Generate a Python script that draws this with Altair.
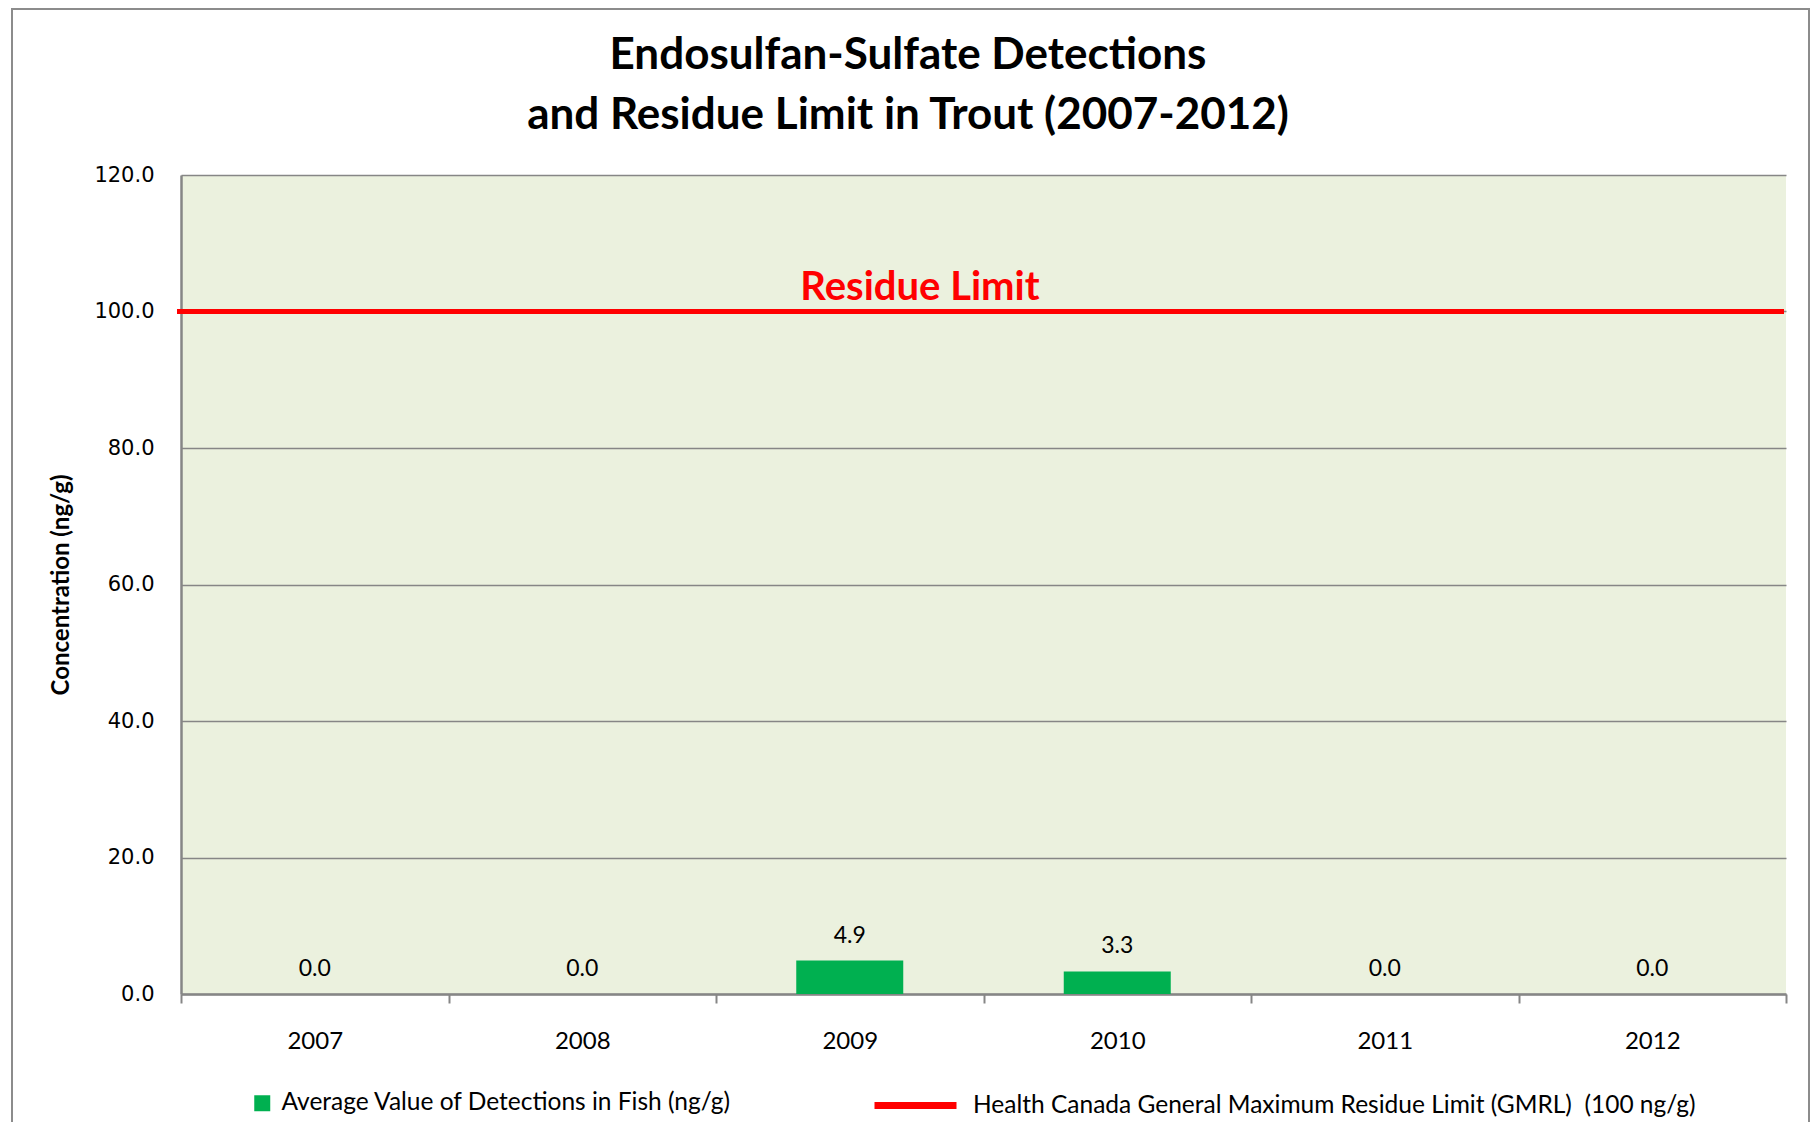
import altair as alt
import pandas as pd

years = ["2007", "2008", "2009", "2010", "2011", "2012"]
values = [0.0, 0.0, 4.9, 3.3, 0.0, 0.0]
limit_value = 100.0
bar_series = "Average Value of Detections in Fish (ng/g)"
limit_series = "Health Canada General Maximum Residue Limit (GMRL)\u00a0 (100 ng/g)"
limit_label = "Residue Limit"
title_line1 = "Endosulfan-Sulfate Detections"
title_line2 = "and Residue Limit in Trout (2007-2012)"
y_title = "Concentration (ng/g)"

W, H = 1605, 819

bars_df = pd.DataFrame({"year": years, "value": values, "series": [bar_series] * len(years)})
limit_df = pd.DataFrame({"limit": [limit_value], "series": [limit_series], "label": [limit_label]})
t1_df = pd.DataFrame({"line": [title_line1]})
t2_df = pd.DataFrame({"line": [title_line2]})
frame_df = pd.DataFrame({"k": [0]})

GRAY = "#868686"

x_enc = alt.X(
    "year:N",
    sort=years,
    scale=alt.Scale(paddingInner=0, paddingOuter=0),
    axis=alt.Axis(
        title=None, labelAngle=0, labelFont="Lato", labelFontSize=24, labelColor="black",
        tickBand="extent", tickSize=9, tickColor=GRAY, tickWidth=2,
        domainColor=GRAY, domainWidth=2.5, labelPadding=26, grid=False,
    ),
)
y_enc = alt.Y(
    "value:Q",
    scale=alt.Scale(domain=[0, 120]),
    axis=alt.Axis(
        title=y_title, values=[0, 20, 40, 60, 80, 100, 120], format=".1f",
        labelFont="DejaVu Sans", labelFontSize=21, labelColor="black", labelPadding=27,
        ticks=False, domainColor=GRAY, domainWidth=2.5, grid=True, gridColor=GRAY, gridWidth=1.5,
        titleFont="Lato", titleFontSize=24, titleFontWeight="bold", titleColor="black",
        titleX=-120, titleY=H / 2, titleAngle=270, titleAlign="center", titleBaseline="middle",
    ),
)

frame = alt.Chart(frame_df).mark_rect(fill=None, stroke="#8c8c8c", strokeWidth=2).encode(
    x=alt.value(-169), x2=alt.value(1628), y=alt.value(-166), y2=alt.value(990)
)

bars = alt.Chart(bars_df).mark_bar(width=alt.RelativeBandSize(0.4)).encode(
    x=x_enc,
    y=y_enc,
    color=alt.Color(
        "series:N",
        scale=alt.Scale(domain=[bar_series], range=["#00B050"]),
        legend=alt.Legend(
            title=None, orient="none", legendX=69, legendY=916, symbolType="square",
            symbolSize=256, symbolStrokeWidth=0, labelFont="Lato", labelFontSize=24.5,
            labelColor="black", labelLimit=1000, labelOffset=7, padding=0,
        ),
    ),
)

bar_text = alt.Chart(bars_df).mark_text(
    font="Lato", fontSize=23, color="black", baseline="middle", dy=-25
).encode(x=alt.X("year:N", sort=years), y="value:Q", text=alt.Text("value:Q", format=".1f"))

rule = alt.Chart(limit_df).mark_rule(strokeWidth=5).encode(
    y=alt.Y("limit:Q"),
    x=alt.value(-4),
    x2=alt.value(W - 2),
    stroke=alt.Stroke(
        "series:N",
        scale=alt.Scale(domain=[limit_series], range=["#FF0000"]),
        legend=alt.Legend(
            title=None, orient="none", legendX=690, legendY=886, symbolType="stroke",
            symbolSize=6724, symbolStrokeWidth=7, labelFont="Lato", labelFontSize=24.5,
            labelColor="black", labelLimit=1000, labelOffset=13, padding=0,
        ),
    ),
)

rule_text = alt.Chart(limit_df).mark_text(
    font="Lato", fontSize=40, fontWeight="bold", color="#FF0000", baseline="middle", dy=-24
).encode(y="limit:Q", x=alt.value(739), text="label:N")

title1 = alt.Chart(t1_df).mark_text(
    font="Lato", fontSize=44, fontWeight="bold", color="black", baseline="middle"
).encode(x=alt.value(727), y=alt.value(-119), text="line:N")
title2 = alt.Chart(t2_df).mark_text(
    font="Lato", fontSize=44, fontWeight="bold", color="black", baseline="middle"
).encode(x=alt.value(727), y=alt.value(-59), text="line:N")

chart = alt.layer(frame, bars, bar_text, rule, rule_text, title1, title2).properties(
    width=W, height=H,
    autosize=alt.AutoSizeParams(type="none"),
    padding={"left": 173, "top": 167, "right": 25, "bottom": 128},
).configure_view(fill="#EBF1DE", stroke=None)

chart.save("out.html", embed_options={"renderer": "svg", "actions": False})
